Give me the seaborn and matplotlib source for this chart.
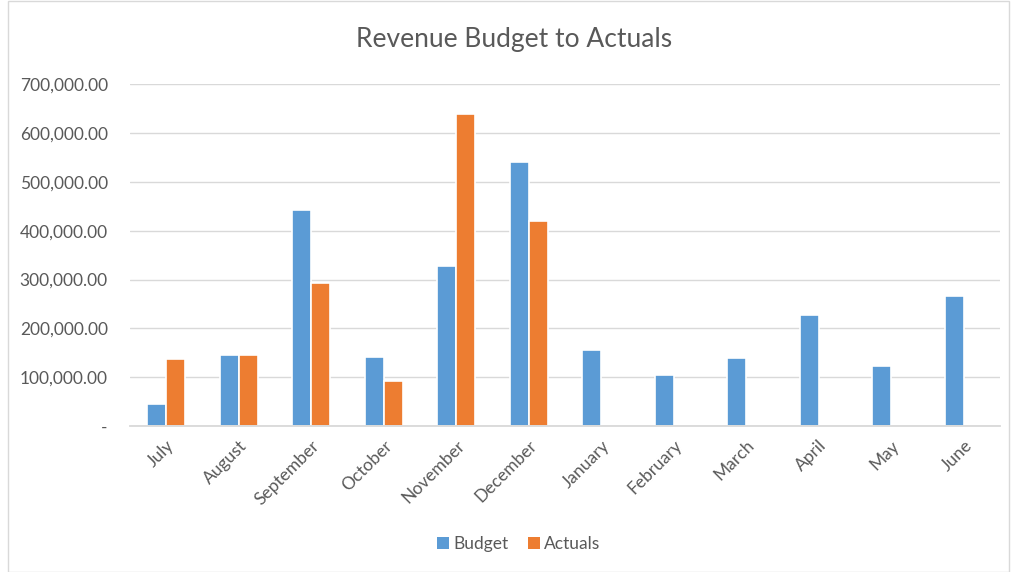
import numpy as np
import pandas as pd
import matplotlib
matplotlib.use("Agg")
import matplotlib.pyplot as plt
import seaborn as sns
from matplotlib.patches import Patch, Rectangle
from matplotlib.ticker import FuncFormatter

months = ["July", "August", "September", "October", "November", "December",
          "January", "February", "March", "April", "May", "June"]
budget = [44500, 146500, 442000, 140500, 328000, 540000,
          156000, 104000, 139000, 227000, 123000, 266000]
actuals = [137500, 145000, 292000, 92000, 638000, 420000,
           np.nan, np.nan, np.nan, np.nan, np.nan, np.nan]
series = ["Budget", "Actuals"]
colors = ["#5B9BD5", "#ED7D31"]
yticks = [0, 100000, 200000, 300000, 400000, 500000, 600000, 700000]

df = pd.DataFrame({
    "Month": months * 2,
    "Value": budget + actuals,
    "Series": [series[0]] * len(months) + [series[1]] * len(months),
})

sns.set_theme(style="white")
plt.rcParams["font.family"] = ["Lato", "DejaVu Sans"]

fig = plt.figure(figsize=(10.11, 5.72), dpi=100)
ax = fig.add_axes([0.1286, 0.255, 0.8604, 0.598])

sns.barplot(data=df, x="Month", y="Value", hue="Series", order=months,
            hue_order=series, palette=colors, width=0.52, ax=ax,
            edgecolor="white", linewidth=1.2, legend=False, saturation=1)

ax.set_xlim(-0.5, len(months) - 0.5)
ax.set_ylim(0, 700000)
ax.set_yticks(yticks)
ax.yaxis.set_major_formatter(FuncFormatter(lambda v, p: "-" if v == 0 else f"{v:,.2f}"))
ax.yaxis.grid(True, color="#D9D9D9", linewidth=1)
ax.set_axisbelow(True)
for s in ["top", "right", "left"]:
    ax.spines[s].set_visible(False)
ax.spines["bottom"].set_color("#D9D9D9")
ax.spines["bottom"].set_linewidth(1.3)
ax.tick_params(axis="y", length=0, pad=16, labelsize=12.5, labelcolor="#595959")
ax.tick_params(axis="x", length=0, pad=8, labelsize=12.5, labelcolor="#595959")
plt.setp(ax.get_xticklabels(), rotation=45, ha="right", rotation_mode="anchor")
ax.set_xlabel("")
ax.set_ylabel("")

fig.suptitle("Revenue Budget to Actuals", x=0.508, y=0.952, fontsize=19, color="#595959")

handles = [Patch(facecolor=c, edgecolor="none", label=s) for s, c in zip(series, colors)]
fig.legend(handles=handles, loc="center", bbox_to_anchor=(0.513, 0.049), ncol=2,
           frameon=False, fontsize=12.5, labelcolor="#595959", handlelength=0.7,
           handleheight=0.7, handletextpad=0.25, columnspacing=1.1)

fig.patches.append(Rectangle((0.008, 0.0), 0.99, 0.998, transform=fig.transFigure,
                             fill=False, edgecolor="#D9D9D9", linewidth=1))

fig.savefig("out.png", dpi=100)
